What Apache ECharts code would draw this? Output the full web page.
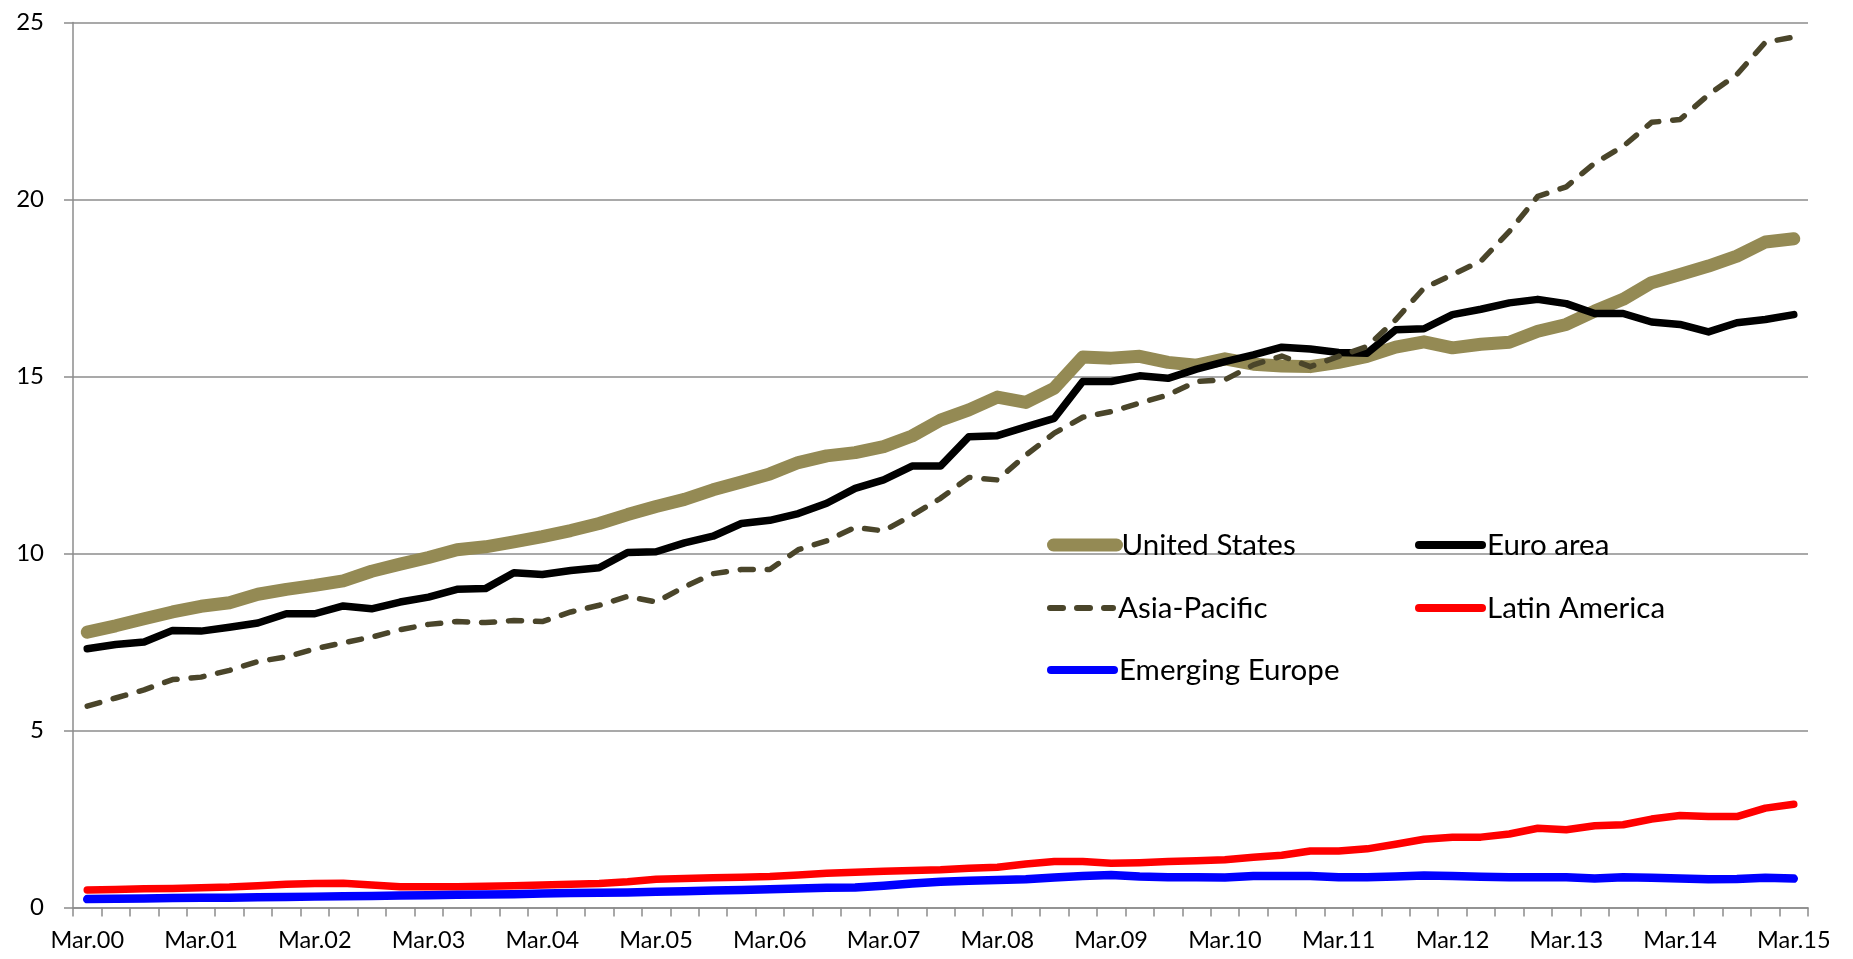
<!DOCTYPE html>
<html>
<head>
<meta charset="utf-8">
<script src="https://cdn.jsdelivr.net/npm/echarts@6/dist/echarts.min.js"></script>
<style>
  html, body { margin: 0; padding: 0; background: #fff; }
  #chart { width: 1853px; height: 959px; }
</style>
</head>
<body>
<div id="chart"></div>
<script>
// quarters Mar.00 .. Mar.15
const years = ['00','01','02','03','04','05','06','07','08','09','10','11','12','13','14','15'];
const months = ['Mar', 'Jun', 'Sep', 'Dec'];
const quarters = [];
years.forEach(y => months.forEach(m => quarters.push(m + '.' + y)));
quarters.length = 61; // ends at Mar.15

const unitedStates = [
  7.78, 7.96, 8.16, 8.35, 8.51, 8.61, 8.85, 8.99, 9.10, 9.23,
  9.50, 9.70, 9.89, 10.11, 10.19, 10.33, 10.48, 10.65, 10.85, 11.10,
  11.33, 11.53, 11.80, 12.02, 12.25, 12.57, 12.76, 12.85, 13.02, 13.32,
  13.77, 14.06, 14.42, 14.27, 14.67, 15.55, 15.52, 15.57, 15.40, 15.32,
  15.50, 15.35, 15.30, 15.28, 15.40, 15.57, 15.83, 15.98, 15.81, 15.91,
  15.97, 16.28, 16.47, 16.85, 17.18, 17.65, 17.88, 18.12, 18.40, 18.80,
  18.89
];
const euroArea = [
  7.31, 7.43, 7.50, 7.83, 7.81, 7.92, 8.04, 8.30, 8.30, 8.52,
  8.44, 8.63, 8.77, 8.99, 9.01, 9.46, 9.41, 9.52, 9.60, 10.03,
  10.05, 10.30, 10.49, 10.85, 10.94, 11.13, 11.42, 11.84, 12.08, 12.47,
  12.47, 13.30, 13.33, 13.58, 13.82, 14.86, 14.86, 15.02, 14.95, 15.21,
  15.42, 15.61, 15.83, 15.78, 15.68, 15.66, 16.32, 16.35, 16.75, 16.90,
  17.08, 17.18, 17.06, 16.78, 16.78, 16.54, 16.47, 16.26, 16.52, 16.61,
  16.75
];
const asiaPacific = [
  5.69, 5.92, 6.15, 6.44, 6.51, 6.70, 6.95, 7.08, 7.31, 7.48,
  7.64, 7.85, 8.00, 8.08, 8.05, 8.11, 8.08, 8.35, 8.54, 8.79,
  8.63, 9.06, 9.43, 9.55, 9.55, 10.11, 10.36, 10.74, 10.64, 11.08,
  11.56, 12.15, 12.08, 12.78, 13.40, 13.85, 14.01, 14.25, 14.48, 14.86,
  14.91, 15.33, 15.58, 15.28, 15.57, 15.85, 16.60, 17.50, 17.88, 18.26,
  19.10, 20.09, 20.36, 21.03, 21.50, 22.18, 22.26, 22.96, 23.53, 24.44,
  24.59
];
const latinAmerica = [
  0.50, 0.51, 0.53, 0.54, 0.56, 0.58, 0.62, 0.66, 0.68, 0.69,
  0.64, 0.59, 0.59, 0.59, 0.60, 0.62, 0.64, 0.66, 0.68, 0.73,
  0.80, 0.82, 0.84, 0.86, 0.88, 0.92, 0.97, 1.00, 1.03, 1.05,
  1.07, 1.11, 1.14, 1.23, 1.30, 1.30, 1.25, 1.27, 1.30, 1.32,
  1.35, 1.42, 1.48, 1.60, 1.60, 1.66, 1.79, 1.93, 1.99, 1.99,
  2.08, 2.24, 2.20, 2.31, 2.34, 2.50, 2.60, 2.57, 2.57, 2.81,
  2.92
];
const emergingEurope = [
  0.24, 0.25, 0.26, 0.27, 0.28, 0.28, 0.29, 0.30, 0.31, 0.32,
  0.33, 0.34, 0.35, 0.36, 0.37, 0.38, 0.40, 0.41, 0.42, 0.43,
  0.45, 0.46, 0.48, 0.50, 0.52, 0.54, 0.56, 0.57, 0.62, 0.68,
  0.73, 0.76, 0.78, 0.80, 0.85, 0.89, 0.92, 0.88, 0.86, 0.86,
  0.85, 0.89, 0.89, 0.89, 0.86, 0.86, 0.88, 0.91, 0.89, 0.87,
  0.86, 0.86, 0.86, 0.82, 0.86, 0.84, 0.82, 0.80, 0.81, 0.84,
  0.82
];

const FONT = 'Lato, "Liberation Sans", sans-serif';
const gridColor = '#8c8c8c';

const chart = echarts.init(document.getElementById('chart'));

function lineSeries(name, data, color, width, type) {
  return {
    name: name,
    type: 'line',
    data: data,
    symbol: 'none',
    smooth: false,
    lineStyle: { color: color, width: width, type: type || 'solid', cap: 'round', join: 'round' },
    itemStyle: { color: color },
    emphasis: { disabled: true }
  };
}

// one legend per entry so they sit where the original puts them
function legendAt(name, left, top, lineWidth) {
  return {
    data: [name],
    left: left,
    top: top,
    padding: 0,
    itemWidth: 63,
    itemHeight: 14,
    selectedMode: false,
    itemStyle: { opacity: 0 },
    lineStyle: { width: lineWidth, cap: 'round' },
    textStyle: { fontFamily: FONT, fontSize: 29.5, color: '#000' }
  };
}

const option = {
  animation: false,
  backgroundColor: '#fff',
  grid: { left: 73, right: 45, top: 22.5, bottom: 51.4, containLabel: false },
  legend: [
    legendAt('United States', 1047, 530, 13),
    legendAt('Euro area', 1415, 530, 8),
    legendAt('Asia-Pacific', 1047, 593, 6),
    legendAt('Latin America', 1415, 593, 8),
    legendAt('Emerging Europe', 1047, 655, 8)
  ],
  xAxis: {
    type: 'category',
    data: quarters,
    boundaryGap: true,
    axisLine: { lineStyle: { color: gridColor, width: 1.5 } },
    axisTick: { show: true, interval: 0, length: 9, lineStyle: { color: gridColor, width: 1.5 } },
    axisLabel: { interval: 3, margin: 21, fontFamily: FONT, fontSize: 23.5, color: '#000' },
    splitLine: { show: false }
  },
  yAxis: {
    type: 'value',
    min: 0,
    max: 25,
    interval: 5,
    axisLine: { show: true, lineStyle: { color: gridColor, width: 1.5 } },
    axisTick: { show: true, length: 9, lineStyle: { color: gridColor, width: 1.5 } },
    axisLabel: { margin: 29, fontFamily: FONT, fontSize: 24, color: '#000' },
    splitLine: { show: true, lineStyle: { color: gridColor, width: 1.5 } }
  },
  series: [
    lineSeries('United States', unitedStates, '#948A54', 13),
    lineSeries('Euro area', euroArea, '#000000', 7.5),
    lineSeries('Asia-Pacific', asiaPacific, '#4A452A', 5.5, [13, 14]),
    lineSeries('Latin America', latinAmerica, '#FF0000', 7.5),
    lineSeries('Emerging Europe', emergingEurope, '#0000FF', 8.5)
  ]
};

chart.setOption(option);
</script>
</body>
</html>
